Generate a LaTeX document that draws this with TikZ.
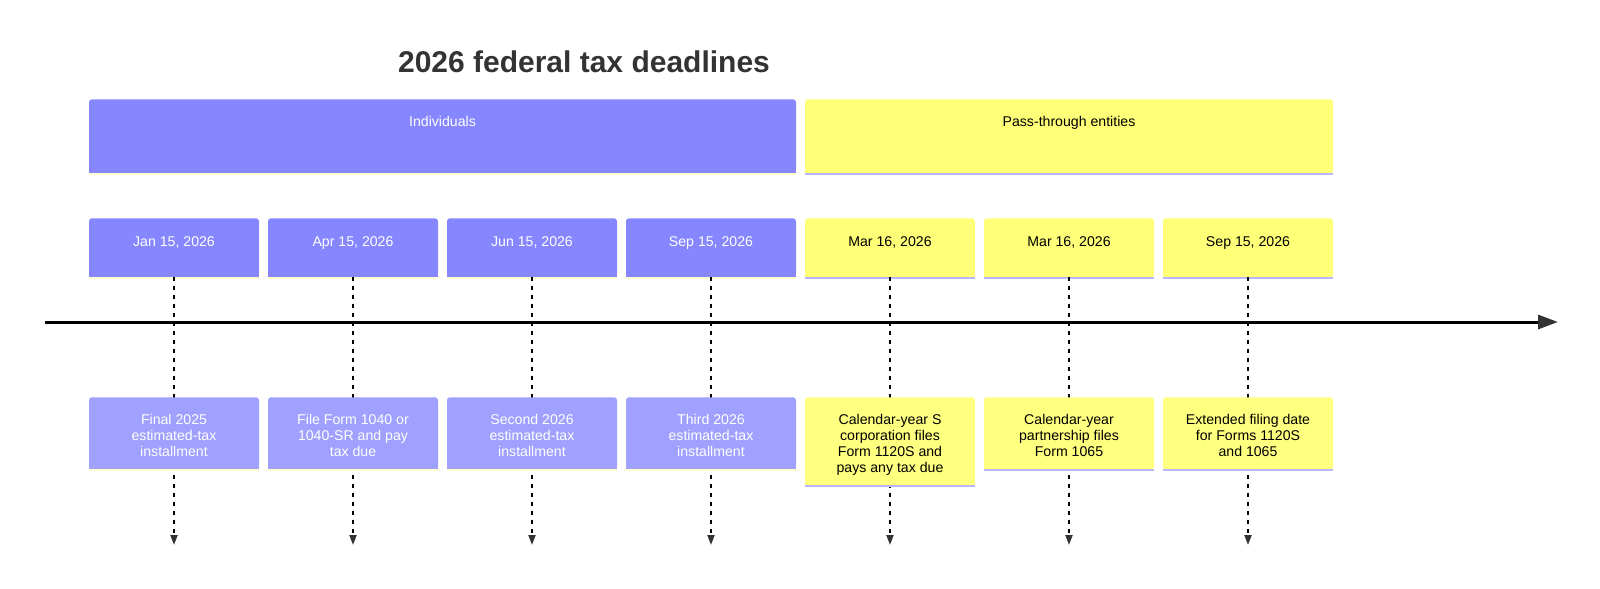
\documentclass[tikz,border=0pt]{standalone}
\usepackage{fontspec}
\setmainfont{Liberation Sans}
\usetikzlibrary{arrows.meta}

\definecolor{ind}{RGB}{134,134,255}
\definecolor{indev}{RGB}{160,160,255}
\definecolor{indln}{RGB}{255,255,205}
\definecolor{pass}{RGB}{255,255,120}
\definecolor{passev}{RGB}{255,255,128}
\definecolor{passln}{RGB}{184,184,255}
\definecolor{titlegray}{RGB}{51,51,51}
\definecolor{tipgray}{RGB}{51,51,51}

\tikzset{
    box/.style={rectangle, rounded corners=2.25pt, inner sep=0pt, anchor=north, minimum width=127.5pt},
    label text/.style={anchor=north, inner sep=0pt, align=center, font=\fontsize{10.6}{12}\selectfont},
    dash line/.style={line width=1.5pt, dash pattern=on 3pt off 3.75pt, -{Triangle[length=7.5pt, width=5.25pt, color=tipgray]}},
}

\begin{document}
\begin{tikzpicture}[x=0.75pt, y=-0.75pt]
    \useasboundingbox (0,0) rectangle (1600,589);

    \node[anchor=base, text=titlegray, font=\bfseries\fontsize{22.5}{27}\selectfont] (title) at (584,72) {2026 federal tax deadlines};

    % sections
    \node[box, fill=ind, minimum width=530.25pt, minimum height=54.75pt] (hind) at (442.5,99) {};
    \fill[ind] (hind.south west) ++(0,-4) rectangle (hind.south east);
    \fill[indln] (hind.south west) rectangle ++(707,2.5);
    \node[label text, text=white] (thind) at (442.5,116) {Individuals};
    \node[box, fill=pass, minimum width=396pt, minimum height=54.75pt] (hpass) at (1069,99) {};
    \fill[pass] (hpass.south west) ++(0,-4) rectangle (hpass.south east);
    \fill[passln] (hpass.south west) rectangle ++(528,2.5);
    \node[label text] (thpass) at (1069,116) {Pass-through entities};

    % time axis
    \coordinate (start) at (45,322);
    \coordinate (stop) at (1558,322);
    \draw[line width=2.25pt, -{Triangle[length=15pt, width=10.5pt, color=tipgray]}] (start) -- (stop);

    \foreach \n/\x/\s/\tc/\h/\dlabel/\elabel in {%
        1/174/ind/white/71/{Jan 15, 2026}/{Final 2025\\estimated-tax\\installment},%
        2/353/ind/white/71/{Apr 15, 2026}/{File Form 1040 or\\1040-SR and pay\\tax due},%
        3/532/ind/white/71/{Jun 15, 2026}/{Second 2026\\estimated-tax\\installment},%
        4/711/ind/white/71/{Sep 15, 2026}/{Third 2026\\estimated-tax\\installment},%
        5/890/pass/black/87/{Mar 16, 2026}/{Calendar-year S\\corporation files\\Form 1120S and\\pays any tax due},%
        6/1069/pass/black/71/{Mar 16, 2026}/{Calendar-year\\partnership files\\Form 1065},%
        7/1248/pass/black/71/{Sep 15, 2026}/{Extended filing date\\for Forms 1120S\\and 1065}%
    }{
        \node[box, fill=\s, minimum height=43.5pt] (d\n) at (\x,218) {};
        \fill[\s] (d\n.south west) ++(0,-4) rectangle (d\n.south east);
        \fill[\s ln] (d\n.south west) rectangle ++(170,2.5);
        \node[label text, text=\tc] (dt\n) at (\x,236) {\dlabel};
        \coordinate (end\n) at (\x,545);
        \draw[dash line] (d\n.south) -- (end\n);
        \node[box, fill=\s ev, minimum height=\h*0.75pt] (e\n) at (\x,397) {};
        \fill[\s ev] (e\n.south west) ++(0,-4) rectangle (e\n.south east);
        \fill[\s ln] (e\n.south west) rectangle ++(170,2.5);
        \node[label text, text=\tc] (et\n) at (\x,414) {\elabel};
    }
\end{tikzpicture}
\end{document}
